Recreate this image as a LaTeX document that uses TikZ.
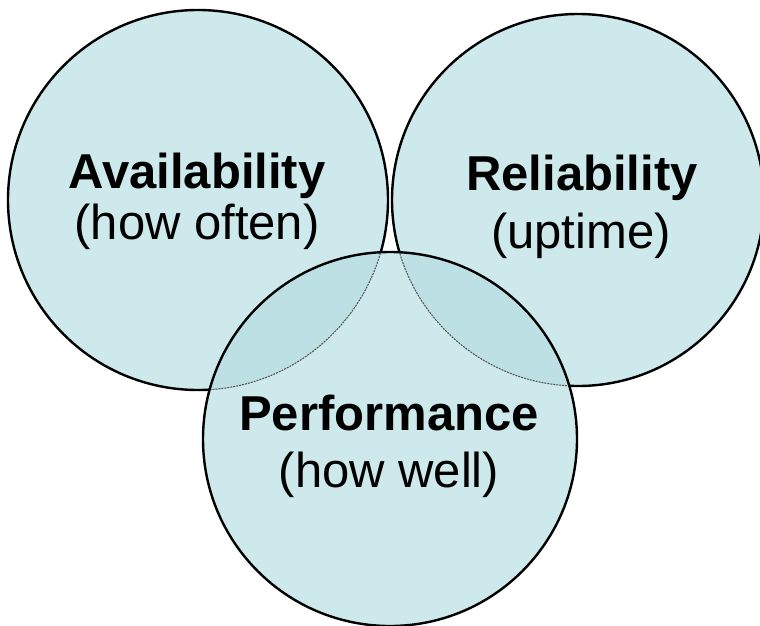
\documentclass[tikz,border=0pt]{standalone}
\usepackage{fontspec}
\setmainfont{Liberation Sans}
\definecolor{venn}{HTML}{CDE9EC}
\definecolor{vennov}{HTML}{BCE0E3}
\tikzset{
  circfill/.style={fill=venn},
  outline/.style={draw=black, line width=2.4pt},
  hiddenarc/.style={draw=black!65, line width=1.1pt, dash pattern=on 2pt off 1pt},
  title/.style={anchor=base, inner sep=0pt, font=\fontsize{49}{55}\selectfont\bfseries},
  sub/.style={anchor=base, inner sep=0pt, font=\fontsize{49}{55}\selectfont},
}
\begin{document}
\begin{tikzpicture}[x=1pt,y=-1pt]
\useasboundingbox (0,0) rectangle (760,626);
\clip (0,0) rectangle (760,626);
\coordinate (cA) at (198,200);
\coordinate (cR) at (578,200);
\coordinate (cP) at (390,439);
% left and right circles
\path[circfill, outline] (cA) circle (190);
\path[circfill, outline] (cR) circle (186);
% bottom circle fill covers the outlines below it
\path[circfill] (cP) circle (187);
\begin{scope}
  \clip (cP) circle (187);
  \fill[vennov] (cA) circle (190);
  \fill[vennov] (cR) circle (186);
  \path[hiddenarc] (cA) circle (190);
  \path[hiddenarc] (cR) circle (186);
\end{scope}
\path[outline] (cP) circle (187);
% labels
\node[title] (tA) at (197,188) {Availability};
\node[sub]   (sA) at (197,239) {(how often)};
\node[title] (tR) at (582,190) {Reliability};
\node[sub]   (sR) at (581,248) {(uptime)};
\node[title] (tP) at (389,430) {Performance};
\node[sub]   (sP) at (389,487) {(how well)};
\end{tikzpicture}
\end{document}
